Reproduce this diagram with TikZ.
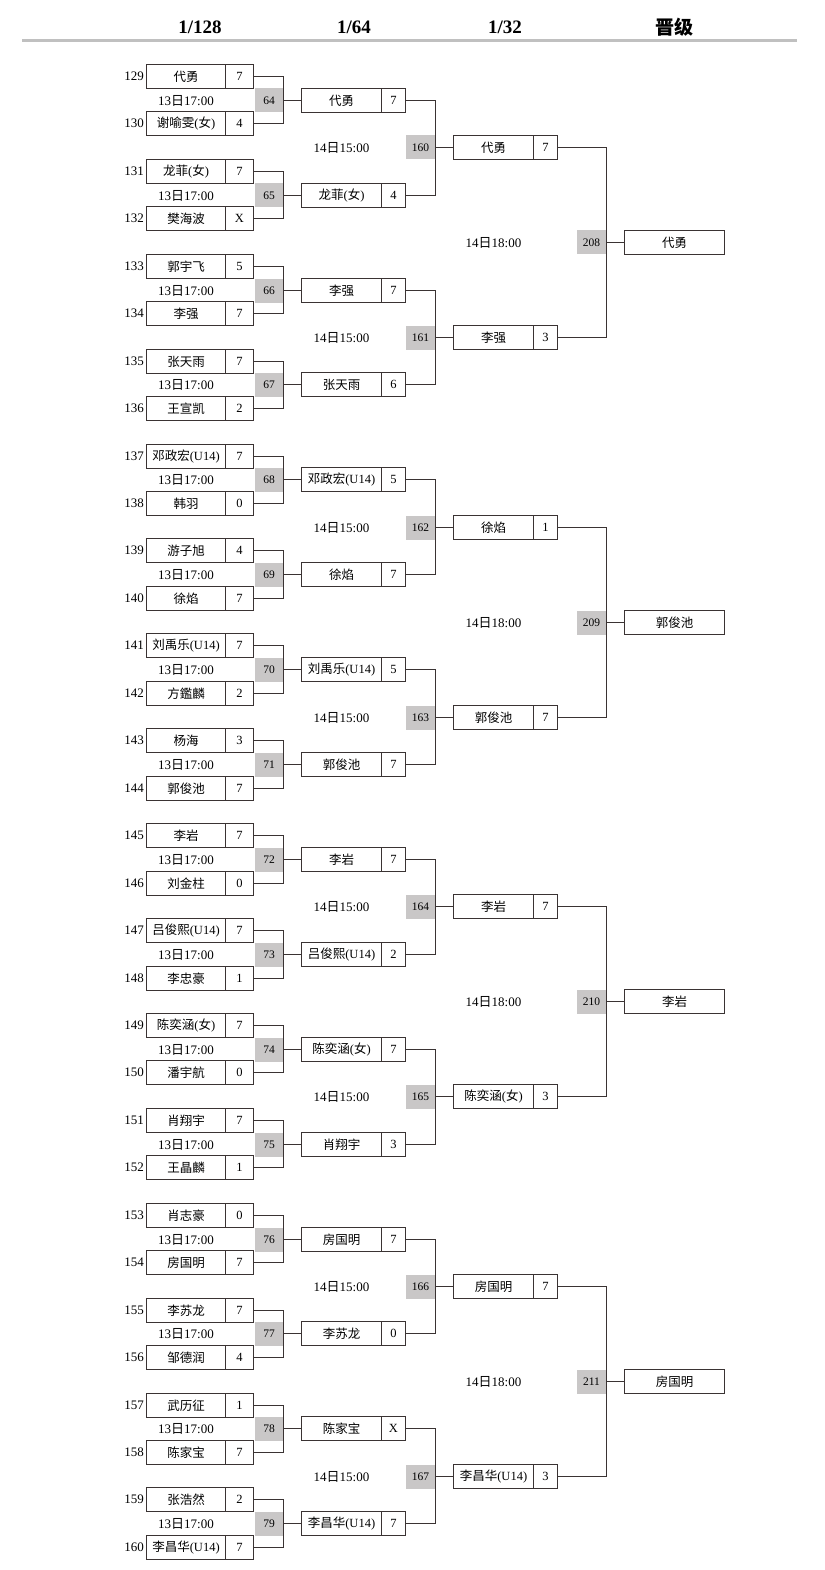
\documentclass[tikz,border=0pt]{standalone}
\usepackage{fontspec}
\setmainfont{Liberation Serif}
\newfontfamily\cjk{Noto Sans CJK SC}
\newcommand\zh[1]{{\cjk #1}}
\definecolor{ln}{HTML}{3A3333}
\definecolor{gbox}{HTML}{C9C7C7}
\definecolor{rule}{HTML}{C0C0C0}
\tikzset{
  bx/.style={draw=ln, line width=1.3pt, fill=white, inner sep=0pt, minimum height=24pt, font=\fontsize{12.5}{12.5}\selectfont},
  namebox/.style={bx, minimum width=79pt},
  scorebox/.style={bx, minimum width=28pt},
  namebtwo/.style={bx, minimum width=80pt},
  scorebtwo/.style={bx, minimum width=24pt},
  finbox/.style={bx, minimum width=100pt},
  graybox/.style={fill=gbox, inner sep=0pt, minimum height=24pt, font=\fontsize{11.5}{11.5}\selectfont},
  seedl/.style={anchor=east, inner sep=0pt, font=\fontsize{13}{13}\selectfont},
  timel/.style={inner sep=0pt, font=\fontsize{13}{13}\selectfont},
  headl/.style={inner sep=0pt, font=\fontsize{19}{19}\selectfont\bfseries},
  conn/.style={draw=ln, line width=1.3pt},
}
\newcommand\pone[4]{%
  \pgfmathsetmacro\yy{round(76+47.45*#1)+0.5}
  \node[namebox] (a#1) at (186,\yy) {#3};
  \node[scorebox] (as#1) at (239.5,\yy) {#4};
  \node[seedl] (sd#1) at (144,\yy) {#2};
}
\newcommand\mone[2]{%
  \pgfmathsetmacro\yy{round(76+47.45*(2*#1+0.5))+0.5}
  \node[graybox, minimum width=29pt] (ga#1) at (269,\yy) {#2};
  \node[timel] (ta#1) at (186,\yy) {13\zh{日}17:00};
}
\newcommand\ptwo[3]{%
  \pgfmathsetmacro\yy{round(76+47.45*(2*#1+0.5))+0.5}
  \node[namebtwo] (b#1) at (341.5,\yy) {#2};
  \node[scorebtwo] (bs#1) at (393.5,\yy) {#3};
}
\newcommand\mtwo[2]{%
  \pgfmathsetmacro\yy{round(76+47.45*(4*#1+1.5))+0.5}
  \node[graybox, minimum width=30pt] (gb#1) at (420.5,\yy) {#2};
  \node[timel] (tb#1) at (341.5,\yy) {14\zh{日}15:00};
}
\newcommand\pthree[3]{%
  \pgfmathsetmacro\yy{round(76+47.45*(4*#1+1.5))+0.5}
  \node[namebtwo] (c#1) at (493.5,\yy) {#2};
  \node[scorebtwo] (cs#1) at (545.5,\yy) {#3};
}
\newcommand\mthree[2]{%
  \pgfmathsetmacro\yy{round(76+47.45*(8*#1+3.5))+0.5}
  \node[graybox, minimum width=30pt] (gc#1) at (591.5,\yy) {#2};
  \node[timel] (tc#1) at (493.5,\yy) {14\zh{日}18:00};
}
\newcommand\pfin[2]{%
  \pgfmathsetmacro\yy{round(76+47.45*(8*#1+3.5))+0.5}
  \node[finbox] (d#1) at (674.5,\yy) {#2};
}
\begin{document}
\begin{tikzpicture}[x=1pt,y=-1pt]
\useasboundingbox (0,0) rectangle (824,1570);
% header
\node[headl] (h1) at (200,27) {1/128};
\node[headl] (h2) at (354,27) {1/64};
\node[headl] (h3) at (505,27) {1/32};
\node[headl] (h4) at (674,27) {\zh{晋级}};
\coordinate (rl) at (22,41);
\coordinate (rr) at (797,41);
\draw[rule, line width=3pt] (rl) -- (rr);
% match numbers (gray) and times
\mone{0}{64}\mone{1}{65}\mone{2}{66}\mone{3}{67}
\mone{4}{68}\mone{5}{69}\mone{6}{70}\mone{7}{71}
\mone{8}{72}\mone{9}{73}\mone{10}{74}\mone{11}{75}
\mone{12}{76}\mone{13}{77}\mone{14}{78}\mone{15}{79}
\mtwo{0}{160}\mtwo{1}{161}\mtwo{2}{162}\mtwo{3}{163}
\mtwo{4}{164}\mtwo{5}{165}\mtwo{6}{166}\mtwo{7}{167}
\mthree{0}{208}\mthree{1}{209}\mthree{2}{210}\mthree{3}{211}
% round 1 players
\pone{0}{129}{\zh{代勇}}{7}
\pone{1}{130}{\zh{谢喻雯}(\zh{女})}{4}
\pone{2}{131}{\zh{龙菲}(\zh{女})}{7}
\pone{3}{132}{\zh{樊海波}}{X}
\pone{4}{133}{\zh{郭宇飞}}{5}
\pone{5}{134}{\zh{李强}}{7}
\pone{6}{135}{\zh{张天雨}}{7}
\pone{7}{136}{\zh{王宣凯}}{2}
\pone{8}{137}{\zh{邓政宏}(U14)}{7}
\pone{9}{138}{\zh{韩羽}}{0}
\pone{10}{139}{\zh{游子旭}}{4}
\pone{11}{140}{\zh{徐焰}}{7}
\pone{12}{141}{\zh{刘禹乐}(U14)}{7}
\pone{13}{142}{\zh{方鑑麟}}{2}
\pone{14}{143}{\zh{杨海}}{3}
\pone{15}{144}{\zh{郭俊池}}{7}
\pone{16}{145}{\zh{李岩}}{7}
\pone{17}{146}{\zh{刘金柱}}{0}
\pone{18}{147}{\zh{吕俊熙}(U14)}{7}
\pone{19}{148}{\zh{李忠豪}}{1}
\pone{20}{149}{\zh{陈奕涵}(\zh{女})}{7}
\pone{21}{150}{\zh{潘宇航}}{0}
\pone{22}{151}{\zh{肖翔宇}}{7}
\pone{23}{152}{\zh{王晶麟}}{1}
\pone{24}{153}{\zh{肖志豪}}{0}
\pone{25}{154}{\zh{房国明}}{7}
\pone{26}{155}{\zh{李苏龙}}{7}
\pone{27}{156}{\zh{邹德润}}{4}
\pone{28}{157}{\zh{武历征}}{1}
\pone{29}{158}{\zh{陈家宝}}{7}
\pone{30}{159}{\zh{张浩然}}{2}
\pone{31}{160}{\zh{李昌华}(U14)}{7}
% round 2 players
\ptwo{0}{\zh{代勇}}{7}
\ptwo{1}{\zh{龙菲}(\zh{女})}{4}
\ptwo{2}{\zh{李强}}{7}
\ptwo{3}{\zh{张天雨}}{6}
\ptwo{4}{\zh{邓政宏}(U14)}{5}
\ptwo{5}{\zh{徐焰}}{7}
\ptwo{6}{\zh{刘禹乐}(U14)}{5}
\ptwo{7}{\zh{郭俊池}}{7}
\ptwo{8}{\zh{李岩}}{7}
\ptwo{9}{\zh{吕俊熙}(U14)}{2}
\ptwo{10}{\zh{陈奕涵}(\zh{女})}{7}
\ptwo{11}{\zh{肖翔宇}}{3}
\ptwo{12}{\zh{房国明}}{7}
\ptwo{13}{\zh{李苏龙}}{0}
\ptwo{14}{\zh{陈家宝}}{X}
\ptwo{15}{\zh{李昌华}(U14)}{7}
% round 3 players
\pthree{0}{\zh{代勇}}{7}
\pthree{1}{\zh{李强}}{3}
\pthree{2}{\zh{徐焰}}{1}
\pthree{3}{\zh{郭俊池}}{7}
\pthree{4}{\zh{李岩}}{7}
\pthree{5}{\zh{陈奕涵}(\zh{女})}{3}
\pthree{6}{\zh{房国明}}{7}
\pthree{7}{\zh{李昌华}(U14)}{3}
% finals
\pfin{0}{\zh{代勇}}
\pfin{1}{\zh{郭俊池}}
\pfin{2}{\zh{李岩}}
\pfin{3}{\zh{房国明}}
% connectors
\foreach \j in {0,...,15}{
  \pgfmathtruncatemacro\ia{2*\j}
  \pgfmathtruncatemacro\ib{2*\j+1}
  \draw[conn] (as\ia.east) -| (ga\j.east) |- (as\ib.east);
  \draw[conn] (ga\j.east) -- (b\j.west);
}
\foreach \j in {0,...,7}{
  \pgfmathtruncatemacro\ia{2*\j}
  \pgfmathtruncatemacro\ib{2*\j+1}
  \draw[conn] (bs\ia.east) -| (gb\j.east) |- (bs\ib.east);
  \draw[conn] (gb\j.east) -- (c\j.west);
}
\foreach \j in {0,...,3}{
  \pgfmathtruncatemacro\ia{2*\j}
  \pgfmathtruncatemacro\ib{2*\j+1}
  \draw[conn] (cs\ia.east) -| (gc\j.east) |- (cs\ib.east);
  \draw[conn] (gc\j.east) -- (d\j.west);
}
\end{tikzpicture}
\end{document}
